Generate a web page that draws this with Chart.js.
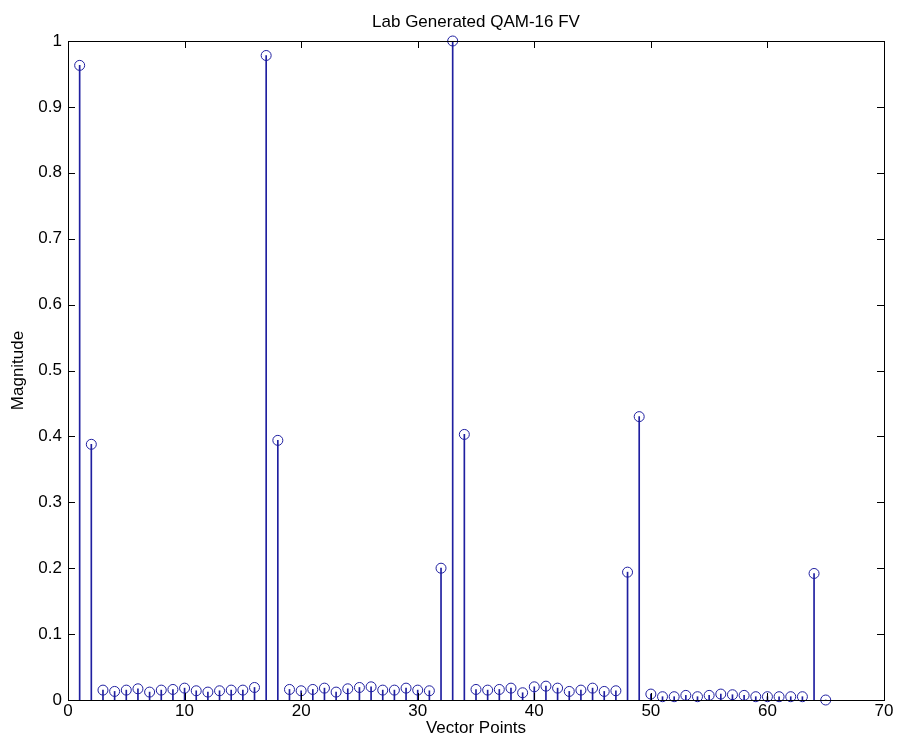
<!DOCTYPE html>
<html>
<head>
<meta charset="utf-8">
<script src="https://cdn.jsdelivr.net/npm/chart.js@4"></script>
<style>
  html, body { margin: 0; padding: 0; background: #fff; }
  #wrap { width: 898px; height: 751px; }
</style>
</head>
<body>
<div id="wrap"><canvas id="stem"></canvas></div>
<script>
// vector point index 1..65 and magnitude
const points = [];
for (let i = 1; i <= 65; i++) points.push(i);
const magnitude = [
  0.963, 0.388, 0.015, 0.013, 0.015, 0.017, 0.012, 0.015, 0.016, 0.018,
  0.014, 0.012, 0.014, 0.015, 0.015, 0.019, 0.978, 0.394, 0.016, 0.014,
  0.016, 0.018, 0.012, 0.017, 0.019, 0.020, 0.015, 0.015, 0.018, 0.015,
  0.014, 0.200, 1.000, 0.403, 0.016, 0.015, 0.016, 0.018, 0.011, 0.020,
  0.021, 0.018, 0.013, 0.015, 0.018, 0.013, 0.014, 0.194, 0.430, 0.009,
  0.005, 0.005, 0.007, 0.005, 0.007, 0.009, 0.008, 0.007, 0.005, 0.005,
  0.005, 0.005, 0.005, 0.192, 0.000
];
const xTicks = [0, 10, 20, 30, 40, 50, 60, 70];
const yTicks = [0, 0.1, 0.2, 0.3, 0.4, 0.5, 0.6, 0.7, 0.8, 0.9, 1];
const chartTitle = 'Lab Generated QAM-16 FV';

const blue = '#1f1fa0';
const font = { family: 'Liberation Sans, Arial, sans-serif', size: 17, weight: 'normal' };
const stemData = points.map((p, i) => ({ x: p, y: magnitude[i] }));

// matlab style box + inward ticks, title centred over the axes
const boxPlugin = {
  id: 'box',
  afterDraw(chart) {
    const { ctx, chartArea: a, scales } = chart;
    ctx.save();
    ctx.strokeStyle = '#000';
    ctx.lineWidth = 1;
    ctx.strokeRect(Math.round(a.left) + 0.5, Math.round(a.top) + 0.5,
      Math.round(a.right - a.left), Math.round(a.bottom - a.top));
    ctx.beginPath();
    xTicks.forEach(v => {
      const px = Math.round(scales.x.getPixelForValue(v)) + 0.5;
      ctx.moveTo(px, a.bottom); ctx.lineTo(px, a.bottom - 7);
      ctx.moveTo(px, a.top); ctx.lineTo(px, a.top + 7);
    });
    yTicks.forEach(v => {
      const py = Math.round(scales.y.getPixelForValue(v)) + 0.5;
      ctx.moveTo(a.left, py); ctx.lineTo(a.left + 7, py);
      ctx.moveTo(a.right, py); ctx.lineTo(a.right - 7, py);
    });
    ctx.stroke();

    ctx.fillStyle = '#000';
    ctx.font = font.size + 'px ' + font.family;
    ctx.textAlign = 'center';
    ctx.textBaseline = 'middle';
    ctx.fillText(chartTitle, (a.left + a.right) / 2, a.top - 19);
    ctx.restore();
  }
};

new Chart(document.getElementById('stem'), {
  data: {
    datasets: [
      {
        type: 'bar',
        data: stemData,
        backgroundColor: blue,
        borderWidth: 0,
        barThickness: 1,
        order: 2
      },
      {
        type: 'scatter',
        data: stemData,
        clip: false,
        pointStyle: 'circle',
        pointRadius: 5,
        pointBorderWidth: 1,
        pointBorderColor: blue,
        pointBackgroundColor: 'rgba(0,0,0,0)',
        order: 1
      }
    ]
  },
  options: {
    responsive: true,
    maintainAspectRatio: false,
    animation: false,
    layout: { padding: { left: 0, right: 14, top: 41, bottom: 0 } },
    plugins: {
      legend: { display: false },
      tooltip: { enabled: false },
      title: { display: false }
    },
    scales: {
      x: {
        type: 'linear',
        min: 0,
        max: 70,
        offset: false,
        grid: { display: false, drawTicks: false },
        border: { display: false },
        afterBuildTicks: s => { s.ticks = xTicks.map(v => ({ value: v })); },
        afterFit: s => { s.height = 51; },
        ticks: { color: '#000', padding: 1, maxRotation: 0, font: font },
        title: {
          display: true,
          text: 'Vector Points',
          color: '#000',
          padding: { top: 0, bottom: 12 },
          font: font
        }
      },
      y: {
        min: 0,
        max: 1,
        grid: { display: false, drawTicks: false },
        border: { display: false },
        afterBuildTicks: s => { s.ticks = yTicks.map(v => ({ value: v })); },
        afterFit: s => { s.width = 68; },
        ticks: {
          color: '#000',
          padding: 6,
          callback: v => String(Math.round(v * 10) / 10),
          font: font
        },
        title: {
          display: true,
          text: 'Magnitude',
          color: '#000',
          padding: { top: 8, bottom: 0 },
          font: font
        }
      }
    }
  },
  plugins: [boxPlugin]
});
</script>
</body>
</html>
